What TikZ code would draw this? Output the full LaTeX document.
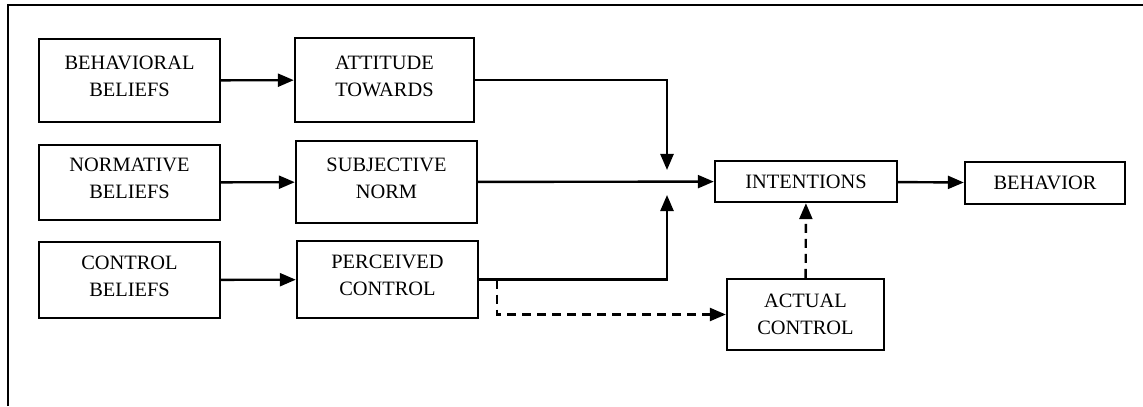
\documentclass[tikz,border=0pt]{standalone}
\usepackage{fontspec}
\setmainfont{Liberation Serif}
\usetikzlibrary{arrows.meta}

\begin{document}
\begin{tikzpicture}[x=0.5pt, y=-0.5pt,
        box/.style={draw, line width=1.2pt, align=center, inner sep=0pt,
            font=\fontsize{10.2}{13.5}\selectfont},
        upbox/.style={box, text depth=4pt},
        arr/.style={line width=1.2pt, -{Triangle[length=8pt, width=6.5pt]}},
        dashline/.style={dash pattern=on 4.5pt off 3pt}]
    \useasboundingbox (0, 0) rectangle (1143, 406);
    % frame, only the left and top edges show
    \draw [line width=1.2pt] (8, 406) -- (8, 5) -- (1143, 5);

    % beliefs
    \node [upbox, minimum width=90.5pt, minimum height=41.5pt] (bb) at (129.5, 80.5) {BEHAVIORAL\\BELIEFS};
    \node [upbox, minimum width=90.5pt, minimum height=37.5pt] (nb) at (129.5, 182.5) {NORMATIVE\\BELIEFS};
    \node [upbox, minimum width=90.5pt, minimum height=38pt] (cb) at (129.5, 280) {CONTROL\\BELIEFS};

    % attitude, norm, perceived control
    \node [upbox, minimum width=89.5pt, minimum height=42pt] (att) at (384.5, 80) {ATTITUDE\\TOWARDS};
    \node [upbox, minimum width=90.5pt, minimum height=41pt] (sn) at (386.5, 182) {SUBJECTIVE\\NORM};
    \node [upbox, minimum width=90.5pt, minimum height=38.5pt] (pc) at (387.5, 279.5) {PERCEIVED\\CONTROL};

    \node [box, minimum width=91pt, minimum height=20.5pt] (int) at (806, 181.5) {INTENTIONS};
    \node [box, minimum width=80pt, minimum height=21pt] (beh) at (1045, 183) {BEHAVIOR};
    \node [box, minimum width=78.5pt, minimum height=35.5pt] (ac) at (805.5, 314.5) {ACTUAL\\CONTROL};

    \coordinate (jt) at (667, 170);
    \coordinate (jb) at (667, 195);
    \coordinate (split) at (497, 279.5);

    \draw [arr] (bb) -- (att);
    \draw [arr] (nb) -- (sn);
    \draw [arr] (cb) -- (pc);
    \draw [arr] (att.east) -| (jt);
    \draw [arr] (sn) -- (int);
    \draw [arr] (pc.east) -| (jb);
    \draw [arr] (int) -- (beh);
    \draw [arr, dashline] (split) |- (ac);
    \draw [arr, dashline] (ac) -- (int);
\end{tikzpicture}
\end{document}
